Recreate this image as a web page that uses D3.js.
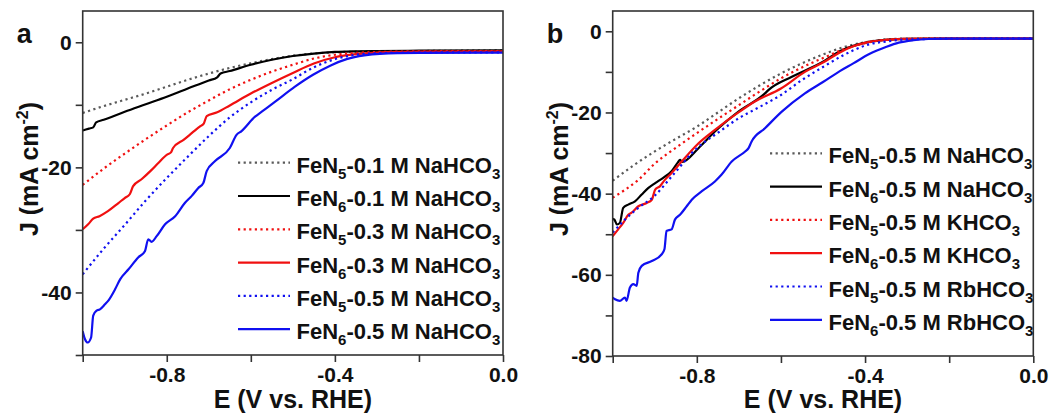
<!DOCTYPE html>
<html>
<head>
<meta charset="utf-8">
<script src="https://cdn.jsdelivr.net/npm/d3@7"></script>
<style>
  body { margin: 0; background: #fff; }
  svg text { font-family: "Liberation Sans", Arial, sans-serif; font-weight: bold; fill: #111; }
</style>
</head>
<body>
<svg id="chart" width="1060" height="417"></svg>
<script>
// ---- data (E in V vs RHE, J in mA cm-2) ----
// panel a
const a_FeN5_01 = [[-1.0,-11.3],[-0.95,-10.2],[-0.9,-9.2],[-0.85,-8.2],[-0.8,-7.1],[-0.75,-6.0],[-0.7,-5.0],[-0.65,-4.1],[-0.6,-3.35],[-0.55,-2.7],[-0.5,-2.15],[-0.45,-1.8],[-0.4,-1.6],[-0.35,-1.5],[-0.3,-1.45],[-0.2,-1.4],[-0.1,-1.35],[0,-1.3]];
const a_FeN6_01 = [[-1.0,-14.1],[-0.985,-13.8],[-0.975,-13.6],[-0.968,-12.8],[-0.95,-12.4],[-0.9,-11.1],[-0.85,-9.9],[-0.8,-8.7],[-0.75,-7.4],[-0.7,-6.1],[-0.68,-5.6],[-0.672,-5.0],[-0.65,-4.6],[-0.6,-3.6],[-0.55,-2.8],[-0.5,-2.2],[-0.45,-1.8],[-0.4,-1.55],[-0.35,-1.45],[-0.3,-1.4],[-0.2,-1.35],[0,-1.3]];
const a_FeN5_03 = [[-1.0,-22.8],[-0.95,-20.2],[-0.9,-17.8],[-0.85,-15.5],[-0.8,-13.3],[-0.75,-11.2],[-0.7,-9.3],[-0.65,-7.5],[-0.6,-6.0],[-0.55,-4.7],[-0.5,-3.6],[-0.45,-2.6],[-0.4,-2.0],[-0.35,-1.7],[-0.3,-1.55],[-0.2,-1.45],[0,-1.4]];
const a_FeN6_03 = [[-1.0,-29.9],[-0.987,-29.1],[-0.975,-28.2],[-0.96,-27.8],[-0.94,-27.0],[-0.915,-25.7],[-0.9,-24.9],[-0.888,-24.3],[-0.88,-23.0],[-0.86,-21.9],[-0.836,-20.4],[-0.82,-19.3],[-0.8,-18.0],[-0.79,-17.6],[-0.785,-16.9],[-0.76,-15.6],[-0.74,-14.5],[-0.72,-13.4],[-0.712,-13.0],[-0.705,-11.8],[-0.68,-11.2],[-0.65,-10.1],[-0.6,-8.2],[-0.55,-6.5],[-0.5,-4.9],[-0.45,-3.4],[-0.4,-2.4],[-0.35,-1.9],[-0.3,-1.65],[-0.2,-1.5],[0,-1.45]];
const a_FeN5_05 = [[-1.0,-37.1],[-0.95,-33.0],[-0.9,-29.2],[-0.85,-25.3],[-0.8,-21.7],[-0.75,-18.3],[-0.7,-15.0],[-0.65,-12.0],[-0.6,-9.6],[-0.55,-7.6],[-0.5,-5.9],[-0.45,-4.0],[-0.4,-2.7],[-0.35,-2.0],[-0.3,-1.75],[-0.2,-1.65],[0,-1.6]];
const a_FeN6_05 = [[-1.0,-46.2],[-0.995,-47.4],[-0.988,-48.0],[-0.98,-47.2],[-0.975,-43.7],[-0.967,-42.9],[-0.959,-42.7],[-0.947,-41.9],[-0.939,-41.3],[-0.923,-39.5],[-0.911,-37.9],[-0.891,-36.3],[-0.868,-34.4],[-0.852,-33.4],[-0.844,-31.5],[-0.836,-31.9],[-0.824,-31.0],[-0.804,-29.1],[-0.78,-27.8],[-0.757,-25.7],[-0.741,-24.6],[-0.725,-23.3],[-0.713,-22.5],[-0.705,-20.6],[-0.685,-19.0],[-0.65,-16.9],[-0.634,-14.8],[-0.622,-14.2],[-0.59,-11.9],[-0.574,-11.1],[-0.542,-9.5],[-0.495,-7.1],[-0.452,-5.2],[-0.41,-3.7],[-0.372,-2.7],[-0.33,-2.1],[-0.293,-1.85],[-0.2,-1.7],[0,-1.65]];

// panel b
const b_FeN5_Na = [[-1.0,-36.8],[-0.95,-33.0],[-0.9,-29.6],[-0.85,-26.5],[-0.8,-23.5],[-0.75,-20.0],[-0.7,-16.5],[-0.65,-13.3],[-0.6,-10.4],[-0.55,-7.9],[-0.5,-5.7],[-0.45,-3.9],[-0.4,-2.7],[-0.35,-2.0],[-0.3,-1.8],[-0.2,-1.75],[0,-1.75]];
const b_FeN6_Na = [[-1.0,-46.2],[-0.996,-46.4],[-0.99,-47.6],[-0.983,-47.2],[-0.975,-43.5],[-0.963,-42.7],[-0.947,-41.9],[-0.931,-40.2],[-0.915,-38.6],[-0.899,-37.4],[-0.88,-36.1],[-0.86,-34.5],[-0.845,-32.3],[-0.84,-31.7],[-0.835,-32.2],[-0.796,-28.8],[-0.757,-24.7],[-0.701,-19.8],[-0.638,-15.3],[-0.63,-14.5],[-0.574,-11.2],[-0.5,-7.5],[-0.46,-4.9],[-0.428,-3.6],[-0.39,-2.6],[-0.349,-2.1],[-0.3,-1.85],[-0.2,-1.8],[0,-1.8]];
const b_FeN5_K = [[-1.0,-41.0],[-0.97,-39.0],[-0.939,-36.6],[-0.9,-32.6],[-0.85,-28.7],[-0.8,-25.1],[-0.75,-21.6],[-0.7,-18.2],[-0.65,-14.8],[-0.6,-11.6],[-0.55,-8.9],[-0.5,-6.6],[-0.45,-4.4],[-0.4,-2.9],[-0.35,-2.1],[-0.3,-1.85],[-0.2,-1.8],[0,-1.8]];
const b_FeN6_K = [[-1.0,-50.5],[-0.987,-48.8],[-0.975,-47.2],[-0.963,-45.2],[-0.955,-44.7],[-0.939,-43.1],[-0.919,-42.3],[-0.907,-41.5],[-0.899,-39.0],[-0.888,-38.2],[-0.876,-36.6],[-0.86,-34.9],[-0.836,-32.1],[-0.8,-28.0],[-0.757,-24.3],[-0.701,-20.0],[-0.662,-17.3],[-0.6,-14.1],[-0.543,-10.0],[-0.5,-7.7],[-0.46,-5.2],[-0.428,-3.7],[-0.39,-2.6],[-0.349,-2.1],[-0.3,-1.85],[-0.2,-1.8],[0,-1.8]];
const b_FeN5_Rb = [[-1.0,-49.6],[-0.971,-46.4],[-0.939,-43.5],[-0.9,-40.5],[-0.86,-35.8],[-0.8,-28.8],[-0.75,-25.0],[-0.7,-21.4],[-0.65,-18.6],[-0.6,-15.7],[-0.55,-12.0],[-0.5,-8.8],[-0.45,-5.8],[-0.428,-4.7],[-0.39,-3.2],[-0.349,-2.5],[-0.3,-2.0],[-0.2,-1.85],[0,-1.8]];
const b_FeN6_Rb = [[-1.0,-65.6],[-0.9945,-66.0],[-0.983,-66.4],[-0.971,-65.6],[-0.967,-66.4],[-0.959,-63.1],[-0.951,-62.3],[-0.943,-62.7],[-0.939,-59.5],[-0.931,-57.8],[-0.907,-56.6],[-0.884,-55.0],[-0.877,-53.7],[-0.872,-49.2],[-0.86,-48.8],[-0.852,-46.4],[-0.84,-45.2],[-0.824,-43.1],[-0.812,-41.5],[-0.788,-39.4],[-0.757,-37.0],[-0.741,-35.3],[-0.717,-32.1],[-0.685,-29.6],[-0.677,-28.8],[-0.67,-27.2],[-0.638,-23.9],[-0.598,-19.8],[-0.543,-15.3],[-0.5,-12.5],[-0.46,-9.8],[-0.428,-7.9],[-0.39,-5.6],[-0.349,-3.8],[-0.32,-2.8],[-0.285,-2.2],[-0.25,-1.9],[-0.2,-1.8],[0,-1.8]];

// legend labels ( _n = subscript )
const labelsA = ["FeN_5-0.1 M NaHCO_3", "FeN_6-0.1 M NaHCO_3", "FeN_5-0.3 M NaHCO_3", "FeN_6-0.3 M NaHCO_3", "FeN_5-0.5 M NaHCO_3", "FeN_6-0.5 M NaHCO_3"];
const labelsB = ["FeN_5-0.5 M NaHCO_3", "FeN_6-0.5 M NaHCO_3", "FeN_5-0.5 M KHCO_3", "FeN_6-0.5 M KHCO_3", "FeN_5-0.5 M RbHCO_3", "FeN_6-0.5 M RbHCO_3"];

// ticks
const xTicks = [-1.0, -0.8, -0.6, -0.4, -0.2, 0.0];
const xTickLabels = [-0.8, -0.4, 0.0];
const yTicksA = [-50, -40, -30, -20, -10, 0];
const yTickLabelsA = [-40, -20, 0];
const yTicksB = [-80, -70, -60, -50, -40, -30, -20, -10, 0];
const yTickLabelsB = [-80, -60, -40, -20, 0];

const colors = ["#5a5a5a", "#000", "#f01010", "#f01010", "#1010f0", "#1010f0"];
const dotted = [true, false, true, false, true, false];

const svg = d3.select("#chart");

function richText(sel, str, subSize) {
  const parts = str.split(/_(\d)/);
  parts.forEach((p, i) => {
    if (!p) return;
    const t = sel.append("tspan").text(p);
    if (i % 2 === 1) {
      t.attr("font-size", subSize).attr("dy", 6);
    } else if (i > 0) {
      t.attr("dy", -6);
    }
  });
}

function drawPanel(o) {
  const g = svg.append("g");
  const x = d3.scaleLinear().domain([-1, 0]).range([o.left, o.right]);
  const y = d3.scaleLinear().domain(o.yDomain).range([o.bottom, o.top]);

  const clipId = "clip" + o.letter;
  svg.append("clipPath").attr("id", clipId)
    .append("rect").attr("x", o.left).attr("y", o.top)
    .attr("width", o.right - o.left).attr("height", o.bottom - o.top);

  const line = d3.line().x(d => x(d[0])).y(d => y(d[1])).curve(d3.curveMonotoneX);
  const plot = g.append("g").attr("clip-path", `url(#${clipId})`);
  o.series.forEach((s, i) => {
    plot.append("path")
      .attr("d", line(s))
      .attr("fill", "none")
      .attr("stroke", colors[i])
      .attr("stroke-width", 2.2)
      .attr("stroke-dasharray", dotted[i] ? "2.2,3.4" : null);
  });

  // frame
  g.append("rect").attr("x", o.left).attr("y", o.top)
    .attr("width", o.right - o.left).attr("height", o.bottom - o.top)
    .attr("fill", "none").attr("stroke", "#333").attr("stroke-width", 1.6);

  const xAxis = d3.axisBottom(x).tickValues(xTicks).tickSize(7).tickPadding(5)
    .tickFormat(v => xTickLabels.some(t => Math.abs(t - v) < 1e-9) ? v.toFixed(1) : "");
  const yAxis = d3.axisLeft(y).tickValues(o.yTicks).tickSize(7).tickPadding(4)
    .tickFormat(v => o.yLabels.includes(v) ? String(v) : "");

  const gx = g.append("g").attr("transform", `translate(0,${o.bottom})`).call(xAxis);
  const gy = g.append("g").attr("transform", `translate(${o.left},0)`).call(yAxis);
  [gx, gy].forEach(a => {
    a.select(".domain").remove();
    a.selectAll(".tick line").attr("stroke", "#333").attr("stroke-width", 1.6);
    a.selectAll(".tick text").attr("font-size", 21).attr("fill", "#111")
      .style("font-family", '"Liberation Sans", Arial, sans-serif').style("font-weight", "bold");
  });

  // axis titles
  g.append("text").attr("x", (o.left + o.right) / 2).attr("y", 408)
    .attr("text-anchor", "middle").attr("font-size", 25).text("E (V vs. RHE)");
  const yt = g.append("text")
    .attr("transform", `translate(${o.left - 45},169) rotate(-90)`)
    .attr("text-anchor", "middle").attr("font-size", 25);
  yt.append("tspan").text("J (mA cm");
  yt.append("tspan").attr("font-size", 16).attr("dy", -10).text("-2");
  yt.append("tspan").attr("dy", 10).text(")");

  // panel letter
  g.append("text").attr("x", o.left - 66).attr("y", 43).attr("font-size", 27).text(o.letter);

  // legend
  o.labels.forEach((lab, i) => {
    const ly = o.legY + i * 33.3;
    g.append("line").attr("x1", o.legX).attr("x2", o.legX + 52)
      .attr("y1", ly).attr("y2", ly)
      .attr("stroke", colors[i]).attr("stroke-width", 2.2)
      .attr("stroke-dasharray", dotted[i] ? "2.2,3.4" : null);
    const t = g.append("text").attr("x", o.legX + 58.5).attr("y", ly + 10).attr("font-size", 22);
    richText(t, lab, 15);
  });
}

drawPanel({
  letter: "a", left: 82.7, right: 503, top: 11, bottom: 355, yDomain: [-50, 5],
  yTicks: yTicksA, yLabels: yTickLabelsA,
  series: [a_FeN5_01, a_FeN6_01, a_FeN5_03, a_FeN6_03, a_FeN5_05, a_FeN6_05],
  labels: labelsA, legX: 238, legY: 162.7
});
drawPanel({
  letter: "b", left: 612.7, right: 1033.3, top: 11, bottom: 356, yDomain: [-80, 5],
  yTicks: yTicksB, yLabels: yTickLabelsB,
  series: [b_FeN5_Na, b_FeN6_Na, b_FeN5_K, b_FeN6_K, b_FeN5_Rb, b_FeN6_Rb],
  labels: labelsB, legX: 770, legY: 153.3
});
</script>
</body>
</html>
